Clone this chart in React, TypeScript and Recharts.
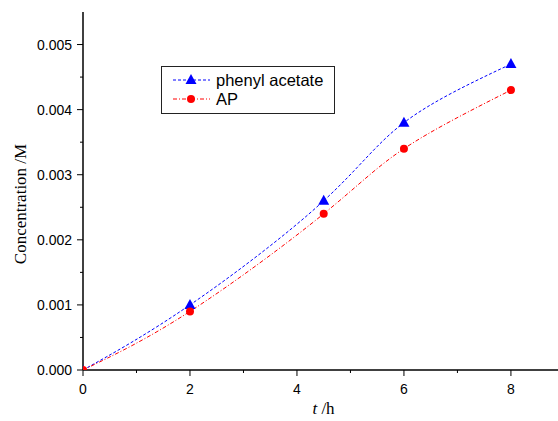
import React from 'react';
import { LineChart, Line, XAxis, YAxis, Label } from 'recharts';

const times = [0, 2, 4.5, 6, 8];
const phenylAcetate = [0, 0.001, 0.0026, 0.0038, 0.0047];
const apValues = [0, 0.0009, 0.0024, 0.0034, 0.0043];
const xTicks = [0, 1, 2, 3, 4, 5, 6, 7, 8];
const xLabeled = [0, 2, 4, 6, 8];
const yTicks = [0, 0.0005, 0.001, 0.0015, 0.002, 0.0025, 0.003, 0.0035, 0.004, 0.0045, 0.005];
const yLabeled = [0, 0.001, 0.002, 0.003, 0.004, 0.005];
const seriesNames = ['phenyl acetate', 'AP'];

const data = times.map((t, i) => ({ t, pa: phenylAcetate[i], ap: apValues[i] }));

const SANS = '"Liberation Sans", Arial, sans-serif';
const SERIF = '"Liberation Serif", "Times New Roman", serif';

const isLabeled = (arr: number[], v: number) => arr.some((a) => Math.abs(a - v) < 1e-9);

const XTick = (props: any) => {
  const { x, y, payload } = props;
  const major = isLabeled(xLabeled, payload.value);
  return (
    <g>
      <line x1={x} x2={x} y1={y} y2={y + (major ? 6 : 3)} stroke="#000" strokeWidth={1} />
      {major && (
        <text x={x} y={y + 24} textAnchor="middle" fontFamily={SANS} fontSize={14} fill="#000">
          {payload.value}
        </text>
      )}
    </g>
  );
};

const YTick = (props: any) => {
  const { x, y, payload } = props;
  const major = isLabeled(yLabeled, payload.value);
  return (
    <g>
      <line x1={x} x2={x - (major ? 6 : 3)} y1={y} y2={y} stroke="#000" strokeWidth={1} />
      {major && (
        <text x={x - 11} y={y + 5} textAnchor="end" fontFamily={SANS} fontSize={14} fill="#000">
          {payload.value.toFixed(3)}
        </text>
      )}
    </g>
  );
};

const TriangleDot = (props: any) => {
  const { cx, cy, payload, index } = props;
  const w = 11;
  const h = 10;
  if (cx == null || cy == null) return null;
  if (payload && payload.t === 0) {
    return <polygon key={`tri-${index}`} points={`${cx},${cy - h / 2} ${cx + w / 4},${cy} ${cx},${cy}`} fill="#0000ff" />;
  }
  return (
    <polygon
      key={`tri-${index}`}
      points={`${cx},${cy - h / 2 - 1} ${cx - w / 2},${cy + h / 2 - 1} ${cx + w / 2},${cy + h / 2 - 1}`}
      fill="#0000ff"
    />
  );
};

const CircleDot = (props: any) => {
  const { cx, cy, payload, index } = props;
  const r = 4;
  if (cx == null || cy == null) return null;
  if (payload && payload.t === 0) {
    return <path key={`cir-${index}`} d={`M${cx},${cy} L${cx + r},${cy} A${r},${r} 0 0 0 ${cx},${cy - r} Z`} fill="#ff0000" />;
  }
  return <circle key={`cir-${index}`} cx={cx} cy={cy} r={r} fill="#ff0000" />;
};

const LegendBox = () => (
  <svg width={174} height={48} style={{ display: 'block' }}>
    <rect x={0.5} y={0.5} width={173} height={47} fill="#fff" stroke="#222" strokeWidth={1} />
    <line x1={12} x2={49} y1={14} y2={14} stroke="#0000ff" strokeWidth={1} strokeDasharray="3 2" />
    <polygon points={`30,8 24.5,18 35.5,18`} fill="#0000ff" />
    <text x={55} y={20} fontFamily={SANS} fontSize={16.5} fill="#000">{seriesNames[0]}</text>
    <line x1={12} x2={49} y1={33} y2={33} stroke="#ff0000" strokeWidth={1} strokeDasharray="4 2 1 2" />
    <circle cx={30} cy={33} r={4} fill="#ff0000" />
    <text x={55} y={39} fontFamily={SANS} fontSize={16.5} fill="#000">{seriesNames[1]}</text>
  </svg>
);

const YLabelContent = (props: any) => {
  const vb = props.viewBox || {};
  const cx = 20;
  const cy = (vb.y ?? 12) + (vb.height ?? 358) / 2 + 13;
  return (
    <text
      x={cx}
      y={cy}
      transform={`rotate(-90 ${cx} ${cy})`}
      textAnchor="middle"
      dominantBaseline="central"
      fontFamily={SERIF}
      fontSize={17}
      fill="#000"
    >
      Concentration /M
    </text>
  );
};

const XLabelContent = (props: any) => {
  const vb = props.viewBox || {};
  const cx = (vb.x ?? 83) + (vb.width ?? 475) / 2 + 3;
  const y = (vb.y ?? 370) + 44;
  return (
    <text x={cx} y={y} textAnchor="middle" fontFamily={SERIF} fontSize={17} fill="#000">
      <tspan fontStyle="italic">t</tspan>
      <tspan> /h</tspan>
    </text>
  );
};

export default function App() {
  return (
    <div style={{ position: 'absolute', left: 0, top: 0, width: 558, height: 421, background: '#fff' }}>
      <LineChart width={558} height={421} data={data} margin={{ top: 12, right: 0, left: 0, bottom: 0 }}>
        <XAxis
          type="number"
          dataKey="t"
          domain={[0, 8.88]}
          ticks={xTicks}
          interval={0}
          allowDataOverflow
          tick={<XTick />}
          tickLine={false}
          tickSize={0}
          tickMargin={0}
          height={51}
          axisLine={{ stroke: '#000', strokeWidth: 1.5 }}
        >
          <Label content={<XLabelContent />} />
        </XAxis>
        <YAxis
          type="number"
          domain={[0, 0.0055]}
          ticks={yTicks}
          interval={0}
          allowDataOverflow
          tick={<YTick />}
          tickLine={false}
          tickSize={0}
          tickMargin={0}
          width={83}
          axisLine={{ stroke: '#000', strokeWidth: 1.5 }}
        >
          <Label content={<YLabelContent />} />
        </YAxis>
        <Line
          dataKey="pa"
          name={seriesNames[0]}
          type="natural"
          stroke="#0000ff"
          strokeWidth={1}
          strokeDasharray="3 2"
          dot={TriangleDot}
          activeDot={false}
          isAnimationActive={false}
        />
        <Line
          dataKey="ap"
          name={seriesNames[1]}
          type="natural"
          stroke="#ff0000"
          strokeWidth={1}
          strokeDasharray="4 2 1 2"
          dot={CircleDot}
          activeDot={false}
          isAnimationActive={false}
        />
      </LineChart>
      <div style={{ position: 'absolute', left: 161, top: 66, width: 174, height: 48 }}>
        <LegendBox />
      </div>
    </div>
  );
}
